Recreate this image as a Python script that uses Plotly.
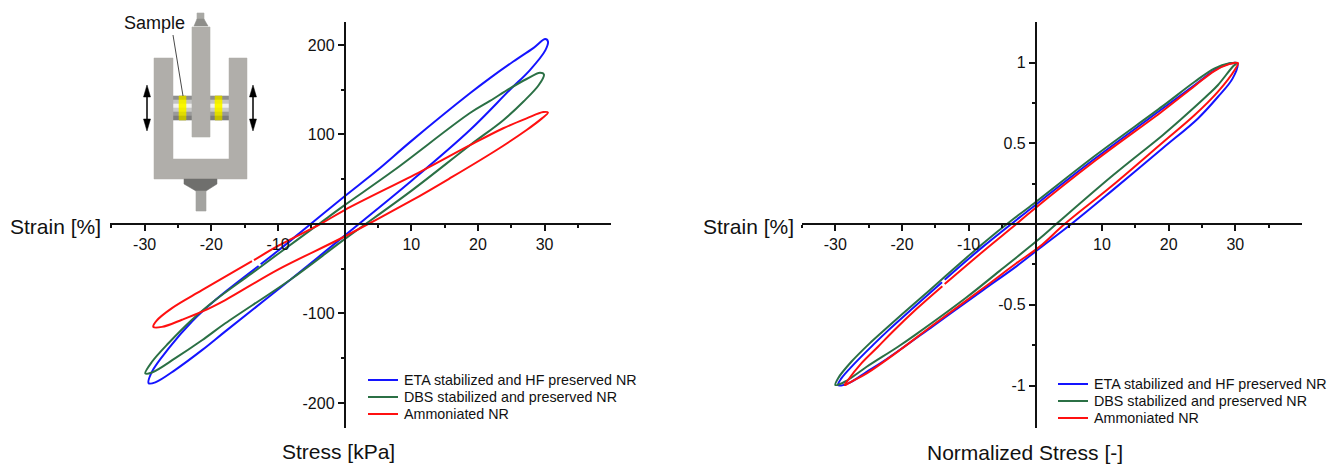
import plotly.graph_objects as go

W, H = 1328, 466

series_names = ["ETA stabilized and HF preserved NR", "DBS stabilized and preserved NR", "Ammoniated NR"]
series_colors = ["#1414ff", "#2b7045", "#ff1010"]

# Left panel: stress [kPa] / strain [%]
blue_left_x = [-12.9, -19.4, -22.9, -26.4, -28.9, -29.4, -28.4, -25.4, -21.4, -17.9, -8.1, 0, 10, 18.8, 24.8, 27.8, 30.1, 30.5, 30.1, 28.3, 25.3, 21.8, 18.8, 9.9, 4.9, 0, -5.1, -10, -12.6]
blue_left_y = [-47, -85, -109, -139, -165, -178, -177, -163, -141, -120, -62, -13, 48, 105, 150, 172, 194, 204, 206.7, 196.5, 181.5, 163, 146, 92, 60, 31, 0, -30, -45]
green_left_x = [-14.0, -19.4, -22.9, -26.4, -28.9, -29.9, -28.9, -25.4, -21.4, -17.9, -8.1, 0, 10, 18.8, 23.8, 26.8, 29.1, 29.9, 29.3, 27.3, 24.8, 21.8, 18.8, 7.4, 0, -3.85, -10, -14.0]
green_left_y = [-55.5, -85, -107, -133, -154, -167, -166, -150, -130, -111, -62, -17, 37, 88, 116, 136.6, 155, 167, 169, 162, 151.5, 137.5, 124, 60, 21, 0, -33.5, -55.5]
red_left_x = [-13.9, -21.4, -25.9, -28.2, -28.7, -27.4, -24.4, -21.4, -17.9, -10, 0, 10, 16, 22.8, 27.3, 29.6, 30.5, 29.8, 27.3, 23.8, 18.8, 11.4, 0, -3.6, -10, -13.6]
red_left_y = [-41.5, -74, -94, -108, -115, -115, -107, -98, -85, -51, -14, 26, 52, 82.7, 105, 118, 124.4, 125, 118, 107, 88, 58.5, 15.6, 0, -24.6, -40.5]

# Right panel: normalized stress / strain
blue_right_x = [-14.0, -17.8, -22.1, -24.1, -27.1, -29.1, -29.6, -28.0, -25.3, -22.8, -15.35, -7.85, -2.85, 0.65, 5.4, 11.6, 19.1, 24.4, 27.4, 29.6, 30.3, 29.3, 26.9, 23.9, 19.1, 9.1, -0.85, -7.85, -13.6]
blue_right_y = [-0.36, -0.50, -0.66, -0.739, -0.863, -0.956, -0.998, -0.985, -0.915, -0.85, -0.632, -0.409, -0.262, -0.15, 0, 0.21, 0.469, 0.654, 0.788, 0.902, 0.995, 0.995, 0.953, 0.86, 0.715, 0.41, 0.09, -0.14, -0.345]
green_right_x = [-14.0, -17.8, -22.9, -24.6, -27.6, -29.6, -30.0, -28.5, -25.3, -20.6, -17.8, -10.35, -5.35, 0.65, 3.15, 11.6, 19.1, 21.9, 25.9, 27.4, 29.6, 30.2, 29.1, 26.9, 23.9, 19.1, 9.1, -0.85, -3.35, -7.85, -14.0]
green_right_y = [-0.342, -0.48, -0.665, -0.729, -0.853, -0.956, -0.997, -0.975, -0.884, -0.76, -0.68, -0.455, -0.29, -0.09, 0, 0.30, 0.55, 0.65, 0.80, 0.861, 0.974, 0.997, 0.995, 0.964, 0.881, 0.73, 0.427, 0.107, 0.03, -0.12, -0.342]
red_right_x = [-13.95, -17.8, -21.4, -23.6, -26.1, -28.1, -28.6, -27.3, -25.3, -20.3, -15.35, -7.85, -2.85, 0.65, 4.4, 11.6, 19.1, 23.9, 27.4, 29.9, 30.4, 29.1, 26.9, 23.9, 19.1, 9.1, -0.85, -2.85, -7.85, -13.6]
red_right_y = [-0.385, -0.525, -0.667, -0.76, -0.863, -0.966, -0.998, -0.97, -0.925, -0.78, -0.625, -0.398, -0.243, -0.14, 0, 0.24, 0.505, 0.675, 0.82, 0.954, 0.997, 0.99, 0.949, 0.855, 0.70, 0.396, 0.07, 0.0, -0.17, -0.372]

left_xticks = [-30, -20, -10, 10, 20, 30]
left_xlabels = ["-30", "-20", "-10", "10", "20", "30"]
left_xminor = [-35, -25, -15, -5, 5, 15, 25, 35]
left_yticks = [-200, -100, 100, 200]
left_ylabels = ["-200", "-100", "100", "200"]
left_yminor = [-150, -50, 50, 150]
right_xticks = left_xticks
right_xlabels = left_xlabels
right_xminor = left_xminor
right_yticks = [-1, -0.5, 0.5, 1]
right_ylabels = ["-1", "-0.5", "0.5", "1"]
right_yminor = [-0.75, -0.25, 0.25, 0.75]

FONT = "Liberation Sans, Arial, sans-serif"


def px(x):
    return x / W


def py(y):
    return 1 - y / H


fig = go.Figure()
left_data = [(blue_left_x, blue_left_y), (green_left_x, green_left_y), (red_left_x, red_left_y)]
right_data = [(blue_right_x, blue_right_y), (green_right_x, green_right_y), (red_right_x, red_right_y)]
for (xs, ys), name, color in zip(left_data, series_names, series_colors):
    fig.add_trace(go.Scatter(x=xs, y=ys, name=name, mode="lines", xaxis="x", yaxis="y", showlegend=False,
                             line=dict(color=color, width=2, shape="spline", smoothing=1)))
for (xs, ys), name, color in zip(right_data, series_names, series_colors):
    fig.add_trace(go.Scatter(x=xs, y=ys, name=name, mode="lines", xaxis="x2", yaxis="y2", showlegend=False,
                             line=dict(color=color, width=2, shape="spline", smoothing=1)))


def xaxis(x0, x1, rng, vals, labels, minor):
    return dict(domain=[px(x0), px(x1)], range=rng, anchor="free", position=py(224), side="bottom",
                showgrid=False, zeroline=False, showline=True, linecolor="#111", linewidth=1.5,
                ticks="outside", ticklen=6, tickwidth=1.5, tickcolor="#111",
                tickmode="array", tickvals=vals, ticktext=labels,
                tickfont=dict(family=FONT, size=16, color="#111"),
                minor=dict(tickmode="array", tickvals=minor, ticks="outside", ticklen=3, tickwidth=1.5,
                           tickcolor="#111", showgrid=False))


def yaxis(pos, rng, vals, labels, minor):
    return dict(domain=[py(428), py(22)], range=rng, anchor="free", position=px(pos), side="left",
                showgrid=False, zeroline=False, showline=True, linecolor="#111", linewidth=1.5,
                ticks="outside", ticklen=6, tickwidth=1.5, tickcolor="#111",
                tickmode="array", tickvals=vals, ticktext=labels,
                tickfont=dict(family=FONT, size=16, color="#111"),
                minor=dict(tickmode="array", tickvals=minor, ticks="outside", ticklen=3, tickwidth=1.5,
                           tickcolor="#111", showgrid=False))


shapes = []
annotations = []


def rect(x0, y0, x1, y1, fill, line=None):
    shapes.append(dict(type="rect", xref="paper", yref="paper", x0=px(x0), x1=px(x1), y0=py(y0), y1=py(y1),
                       fillcolor=fill, line=dict(color=line or fill, width=0.6), layer="below"))


def poly(points, fill):
    d = "M " + " L ".join(f"{px(a):.5f},{py(b):.5f}" for a, b in points) + " Z"
    shapes.append(dict(type="path", xref="paper", yref="paper", path=d, fillcolor=fill,
                       line=dict(color=fill, width=0.5), layer="below"))


def seg(x0, y0, x1, y1, color, width):
    shapes.append(dict(type="line", xref="paper", yref="paper", x0=px(x0), x1=px(x1), y0=py(y0), y1=py(y1),
                       line=dict(color=color, width=width)))


def text(s, x, y, size, anchor="left"):
    annotations.append(dict(text=s, xref="paper", yref="paper", x=px(x), y=py(y), showarrow=False,
                            xanchor=anchor, yanchor="middle", font=dict(family=FONT, size=size, color="#111")))


# Schematic of the shear fixture
GRAY = "#b0aeaa"
cyl = ["#8f8f8f", "#c2c2c2", "#efefef", "#c9c9c9", "#9a9a9a", "#7c7c7c"]
for x0, x1 in [(173, 192), (210, 229)]:
    for i, c in enumerate(cyl):
        rect(x0, 96 + 4 * i, x1, 100 + 4 * i, c)
for x0, x1 in [(179, 186), (215, 222)]:
    for i, c in enumerate(["#d4cf00", "#f2ee00", "#fbf800", "#f2ee00", "#e0dc00", "#c4c000"]):
        rect(x0, 96 + 4 * i, x1, 100 + 4 * i, c)
poly([(154, 58), (173, 58), (173, 159), (229, 159), (229, 58), (247, 58), (247, 179), (154, 179)], GRAY)
rect(192, 27, 210, 137, GRAY)
rect(197, 13, 204, 20, "#a8a8a4")
poly([(197, 19), (204, 19), (208, 26), (194, 26)], "#8e8e8a")
poly([(184, 179), (217, 179), (217, 184), (206, 191), (196, 191), (184, 184)], "#6f6f6d")
rect(196, 191, 206, 211, "#a3a3a0")
for ax in (147, 253):
    seg(ax, 92, ax, 124, "#000", 1.5)
    poly([(ax - 3.5, 97), (ax, 85), (ax + 3.5, 97)], "#000")
    poly([(ax - 3.5, 119), (ax, 131), (ax + 3.5, 119)], "#000")
seg(173, 35, 183, 96, "#333", 0.9)
text("Sample", 122, 23, 18)

# Axis titles
text("Strain [%]", 8, 226, 21)
text("Strain [%]", 701, 226, 21)
text("Stress [kPa]", 338, 451, 21, "center")
text("Normalized Stress [-]", 1025, 452.5, 21, "center")

# Legends
for lx, ly in [(368, 380), (1058, 384)]:
    for i, (name, color) in enumerate(zip(series_names, series_colors)):
        seg(lx, ly + 17 * i, lx + 30, ly + 17 * i, color, 2)
        text(name, lx + 34, ly + 17 * i, 14.3)

fig.update_layout(
    width=W, height=H, margin=dict(l=0, r=0, t=0, b=0), paper_bgcolor="white", plot_bgcolor="white",
    showlegend=False,
    xaxis=xaxis(110, 611, [-35.2, 39.96], left_xticks, left_xlabels, left_xminor),
    yaxis=yaxis(344.5, [-228, 225.7], left_yticks, left_ylabels, left_yminor),
    xaxis2=xaxis(802, 1302, [-35.0, 40.0], right_xticks, right_xlabels, right_xminor),
    yaxis2=yaxis(1035.7, [-1.263, 1.251], right_yticks, right_ylabels, right_yminor),
    shapes=shapes, annotations=annotations,
)

fig.write_html("out.html", config={"displayModeBar": False}, post_script="document.body.style.margin='0';")
